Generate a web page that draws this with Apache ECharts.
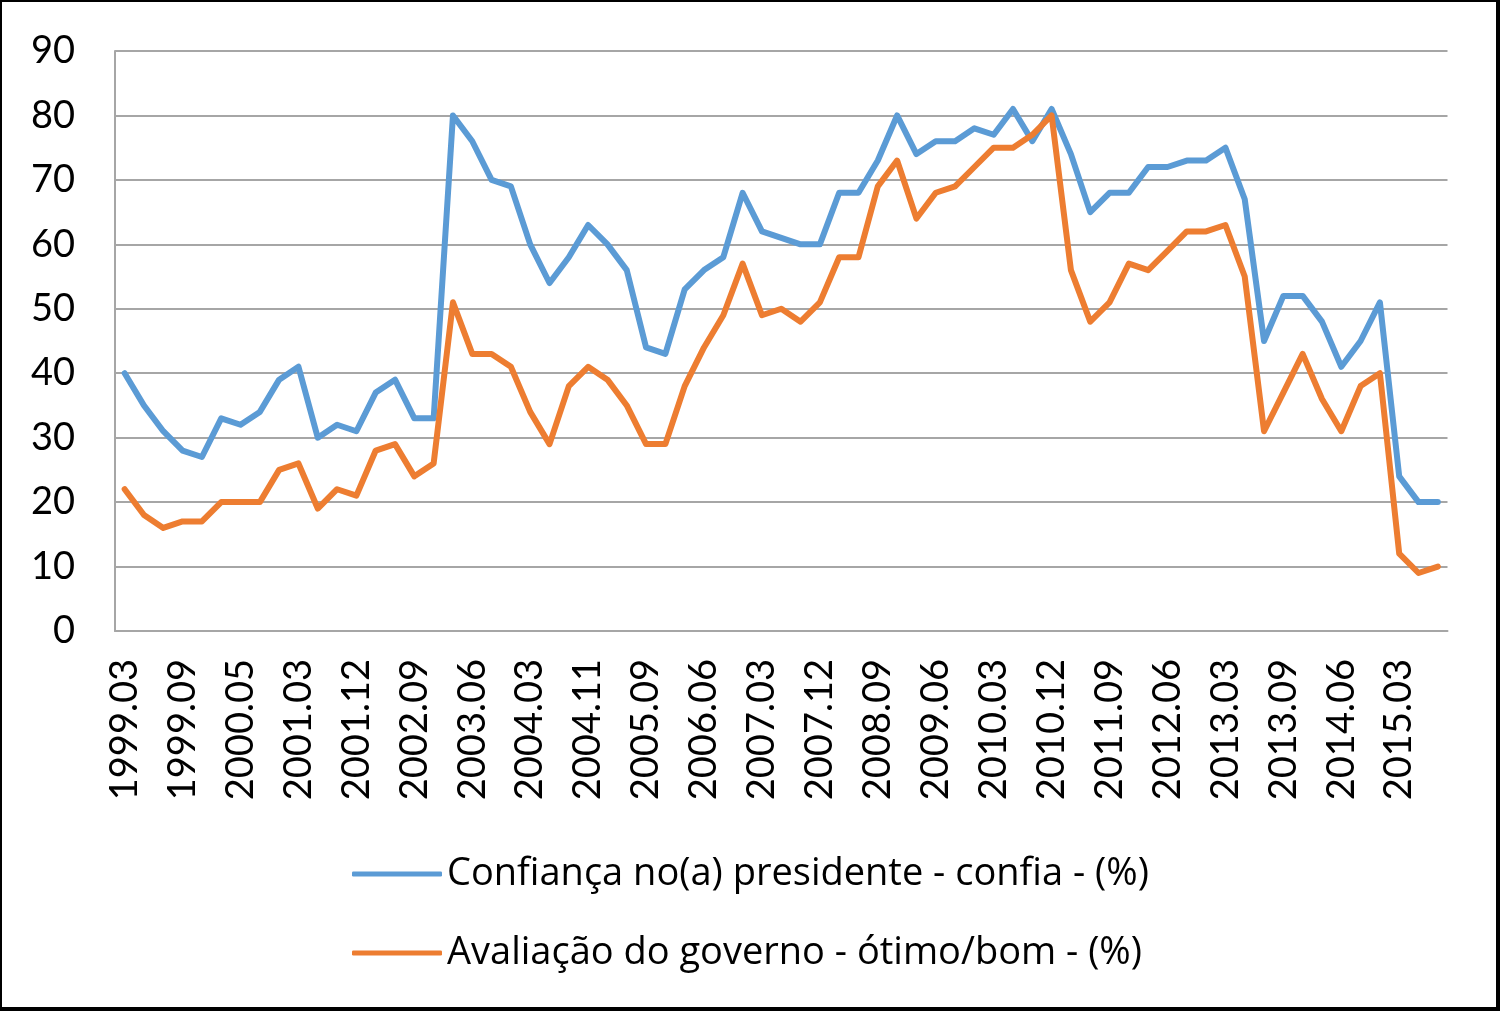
<!DOCTYPE html>
<html>
<head>
<meta charset="utf-8">
<script src="https://cdn.jsdelivr.net/npm/echarts@6/dist/echarts.min.js"></script>
<style>
html,body{margin:0;padding:0;background:#fff;}
#chart{width:1500px;height:1011px;}
</style>
</head>
<body>
<div id="chart"></div>
<script>
const categories = [
  "1999.03","1999.06","1999.07","1999.09","1999.12","2000.03","2000.05","2000.08","2000.12",
  "2001.03","2001.06","2001.09","2001.12","2002.03","2002.06","2002.09","2002.12","2003.03",
  "2003.06","2003.09","2003.12","2004.03","2004.06","2004.09","2004.11","2005.03","2005.06",
  "2005.09","2005.12","2006.03","2006.06","2006.09","2006.12","2007.03","2007.06","2007.09",
  "2007.12","2008.03","2008.06","2008.09","2008.12","2009.03","2009.06","2009.09","2009.12",
  "2010.03","2010.06","2010.09","2010.12","2011.03","2011.06","2011.09","2011.12","2012.03",
  "2012.06","2012.09","2012.12","2013.03","2013.06","2013.07","2013.09","2013.11","2014.03",
  "2014.06","2014.09","2014.12","2015.03","2015.06","2015.09"
];
const confianca = [40,35,31,28,27,33,32,34,39,41,30,32,31,37,39,33,33,
  80,76,70,69,60,54,58,63,60,56,44,43,53,56,58,68,62,
  61,60,60,68,68,73,80,74,76,76,78,77,81,76,81,74,65,
  68,68,72,72,73,73,75,67,45,52,52,48,41,45,51,24,20,20];
const avaliacao = [22,18,16,17,17,20,20,20,25,26,19,22,21,28,29,24,26,
  51,43,43,41,34,29,38,41,39,35,29,29,38,44,49,57,49,
  50,48,51,58,58,69,73,64,68,69,72,75,75,77,80,56,48,
  51,57,56,59,62,62,63,55,31,37,43,36,31,38,40,12,9,10];
const seriesNames = ["Confiança no(a) presidente - confia - (%)", "Avaliação do governo - ótimo/bom - (%)"];

const chart = echarts.init(document.getElementById('chart'), null, {renderer:'canvas'});
const FONT = 'Lato';
chart.setOption({
  animation:false,
  backgroundColor:'#ffffff',
  grid:{left:115, right:52.5, top:51, bottom:380, containLabel:false},
  legend:{
    orient:'vertical', left:347, top:847,
    icon:'roundRect', itemWidth:90, itemHeight:5, itemGap:35,
    textStyle:{fontFamily:'Open Sans', fontSize:38, color:'#000', lineHeight:44},
    data:seriesNames
  },
  xAxis:{
    type:'category', data:categories, boundaryGap:true,
    axisLine:{show:true, lineStyle:{color:'#a6a6a6', width:2}},
    axisTick:{show:false},
    axisLabel:{interval:2, rotate:90, margin:28, fontFamily:FONT, fontSize:38, color:'#000'},
    splitLine:{show:false}
  },
  yAxis:{
    type:'value', min:0, max:90, interval:10,
    axisLine:{show:true, lineStyle:{color:'#a6a6a6', width:2}},
    axisTick:{show:false},
    axisLabel:{margin:40, fontFamily:FONT, fontSize:38, color:'#000'},
    splitLine:{show:true, lineStyle:{color:'#a6a6a6', width:2}}
  },
  series:[
    {name:seriesNames[0], type:'line', data:confianca, symbol:'none',
     itemStyle:{color:'#5B9BD5'},
     lineStyle:{color:'#5B9BD5', width:6, cap:'round', join:'round'}},
    {name:seriesNames[1], type:'line', data:avaliacao, symbol:'none',
     itemStyle:{color:'#ED7D31'},
     lineStyle:{color:'#ED7D31', width:6, cap:'round', join:'round'}}
  ],
  graphic:[
    {type:'rect', shape:{x:0,y:0,width:2,height:1011}, style:{fill:'#000'}, silent:true},
    {type:'rect', shape:{x:0,y:0,width:1500,height:2}, style:{fill:'#000'}, silent:true},
    {type:'rect', shape:{x:1496,y:0,width:4,height:1011}, style:{fill:'#000'}, silent:true},
    {type:'rect', shape:{x:0,y:1007,width:1500,height:4}, style:{fill:'#000'}, silent:true}
  ]
});
</script>
</body>
</html>
